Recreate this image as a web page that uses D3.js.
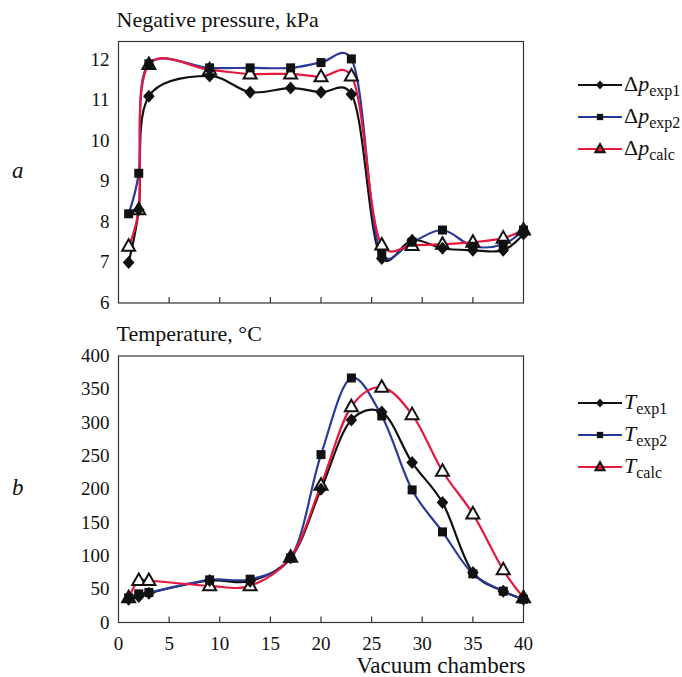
<!DOCTYPE html>
<html>
<head>
<meta charset="utf-8">
<script src="https://cdn.jsdelivr.net/npm/d3@7"></script>
<style>
  body { margin: 0; background: #fff; }
  text { font-family: "Liberation Serif", "DejaVu Serif", serif; fill: #111; }
</style>
</head>
<body>
<div id="chart"></div>
<script>
// chamber numbers (x positions of the measured points)
var chambers = [1, 2, 3, 9, 13, 17, 20, 23, 26, 29, 32, 35, 38, 40];

// negative pressure, kPa
var pExp1 = [7.0, 8.3, 11.1, 11.6, 11.2, 11.3, 11.2, 11.15, 7.1, 7.55, 7.35, 7.3, 7.3, 7.7];
var pExp2 = [8.2, 9.2, 11.9, 11.8, 11.8, 11.8, 11.93, 12.02, 7.2, 7.5, 7.8, 7.4, 7.45, 7.8];
var pCalc = [7.4, 8.3, 11.88, 11.75, 11.65, 11.65, 11.58, 11.6, 7.43, 7.42, 7.45, 7.5, 7.6, 7.8];

// temperature, °C
var tExp1 = [35, 39, 44, 63, 62, 97, 200, 304, 316, 240, 180, 75, 47, 35];
var tExp2 = [37, 43, 45, 64, 65, 97, 252, 367, 310, 199, 136, 73, 47, 35];
var tCalc = [37, 63, 63, 55, 55, 98, 206, 324, 353, 312, 227, 163, 79, 37];

var xTicks = [0, 5, 10, 15, 20, 25, 30, 35, 40];
var pTicks = [6, 7, 8, 9, 10, 11, 12];
var tTicks = [0, 50, 100, 150, 200, 250, 300, 350, 400];

var width = 682, height = 677;
var svg = d3.select("#chart").append("svg").attr("width", width).attr("height", height);

var x = d3.scaleLinear().domain([0, 40]).range([118.5, 523.5]);
var yP = d3.scaleLinear().domain([6, 12.45]).range([303, 41.5]);
var yT = d3.scaleLinear().domain([0, 400]).range([622.5, 356]);

var colors = { exp1: "#111111", exp2: "#2b3a98", calc: "#e8173c" };

function diamond(g, cx, cy, s) {
    s = s || 1;
    var w = 5.8 * s, h = 6.5 * s;
    g.append("path").attr("d", "M" + cx + "," + (cy - h) + "L" + (cx + w) + "," + cy + "L" + cx + "," + (cy + h) + "L" + (cx - w) + "," + cy + "Z")
        .attr("fill", "#111");
}
function square(g, cx, cy, s) {
    s = s || 1;
    var h = 4.5 * s;
    g.append("rect").attr("x", cx - h).attr("y", cy - h).attr("width", 2 * h).attr("height", 2 * h)
        .attr("fill", "#111");
}
function triangle(g, cx, cy, s) {
    s = s || 1;
    g.append("path").attr("d", "M" + cx + "," + (cy - 7 * s) + "L" + (cx + 6.5 * s) + "," + (cy + 4.5 * s) + "L" + (cx - 6.5 * s) + "," + (cy + 4.5 * s) + "Z")
        .attr("fill", s < 1 ? "#e8173c" : "#fff").attr("stroke", "#111").attr("stroke-width", 2);
}

function panel(y, ticks, series, title, letter, legendY, sym) {
    var g = svg.append("g");
    // frame
    g.append("rect").attr("x", x(0)).attr("y", y.range()[1])
        .attr("width", x(40) - x(0)).attr("height", y.range()[0] - y.range()[1])
        .attr("fill", "none").attr("stroke", "#333").attr("stroke-width", 1.2);
    // x ticks (inward)
    g.selectAll(".xt").data(xTicks.slice(1, -1)).enter().append("line")
        .attr("x1", function(d){ return x(d); }).attr("x2", function(d){ return x(d); })
        .attr("y1", y.range()[0]).attr("y2", y.range()[0] - 6)
        .attr("stroke", "#333").attr("stroke-width", 1.2);
    // y tick labels
    g.selectAll(".yl").data(ticks).enter().append("text")
        .attr("x", x(0) - 9).attr("y", function(d){ return y(d) + 6; })
        .attr("text-anchor", "end").attr("font-size", 19).text(function(d){ return d; });
    // title
    g.append("text").attr("x", x(0) - 2).attr("y", y.range()[1] - 15)
        .attr("font-size", 22).text(title);
    g.append("text").attr("x", 12).attr("y", (y.range()[0] + y.range()[1]) / 2 + 6)
        .attr("font-size", 23).attr("font-style", "italic").text(letter);

    var line = d3.line().x(function(d){ return x(d[0]); }).y(function(d){ return y(d[1]); })
        .curve(d3.curveCatmullRom.alpha(0.25));
    var keys = ["exp1", "exp2", "calc"];
    keys.forEach(function(k){
        g.append("path").datum(chambers.map(function(c, i){ return [c, series[k][i]]; }))
            .attr("d", line).attr("fill", "none").attr("stroke", colors[k]).attr("stroke-width", 2.2);
    });
    var markers = { exp1: diamond, exp2: square, calc: triangle };
    ["calc", "exp2", "exp1"].forEach(function(k){
        chambers.forEach(function(c, i){ markers[k](g, x(c), y(series[k][i])); });
    });

    // legend
    keys.forEach(function(k, i){
        var ly = legendY + i * 32;
        g.append("line").attr("x1", 578).attr("x2", 622).attr("y1", ly).attr("y2", ly)
            .attr("stroke", colors[k]).attr("stroke-width", 2.2);
        markers[k](g, 600, ly, 0.7);
        var t = g.append("text").attr("x", 624).attr("y", ly + 6).attr("font-size", 22);
        if (sym === "p") {
            t.append("tspan").text("\u0394");
            t.append("tspan").attr("font-style", "italic").text("p");
        } else {
            t.append("tspan").attr("font-style", "italic").text("T");
        }
        t.append("tspan").attr("font-size", 16).attr("dy", 5).text(k);
    });
    return g;
}

panel(yP, pTicks, { exp1: pExp1, exp2: pExp2, calc: pCalc }, "Negative pressure, kPa", "a", 85, "p");
var gb = panel(yT, tTicks, { exp1: tExp1, exp2: tExp2, calc: tCalc }, "Temperature, \u00b0C", "b", 403, "T");

// x tick labels on the lower panel
gb.selectAll(".xl").data(xTicks).enter().append("text")
    .attr("x", function(d){ return x(d); }).attr("y", 650)
    .attr("text-anchor", "middle").attr("font-size", 19).text(function(d){ return d; });
gb.append("text").attr("x", x(40) + 2).attr("y", 673).attr("text-anchor", "end")
    .attr("font-size", 23).text("Vacuum chambers");
</script>
</body>
</html>
